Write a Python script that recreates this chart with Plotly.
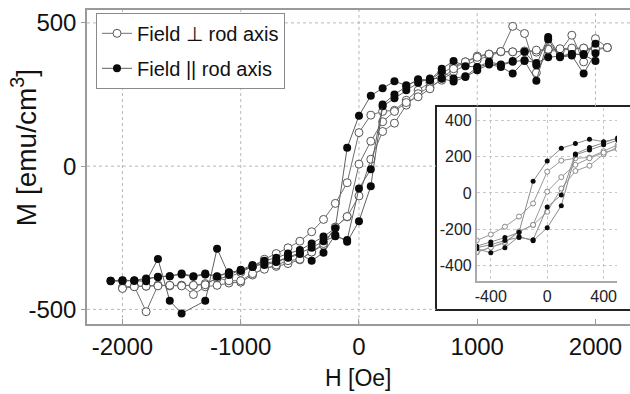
import plotly.graph_objects as go

# ---------------- data (H in Oe, M in emu/cm^3) ----------------
# Field perpendicular to rod axis (open circles)
H_perp_d1 = [2100, 2000, 1900, 1800, 1700, 1600, 1500, 1400, 1300, 1200, 1100, 1000, 900, 800, 700, 600,
             500, 400, 300, 200, 100, 0, -100, -200, -300, -400, -500, -600, -700, -800, -900, -1000,
             -1100, -1200, -1300, -1400, -1500, -1600, -1700, -1800, -1900, -2000]
M_perp_d1 = [414, 405, 412, 408, 405, 410, 398, 402, 399, 400, 391, 384, 364, 349, 323, 292,
             265, 230, 195, 191, 178, 117, -58, -130, -186, -229, -262, -285, -305, -325, -350, -371,
             -386, -392, -410, -416, -416, -416, -416, -419, -419, -424]
H_perp_a1 = [-2000, -1900, -1800, -1700, -1600, -1500, -1400, -1300, -1200, -1100, -1000, -900, -800, -700,
             -600, -500, -400, -300, -200, -100, 0, 100, 200, 300, 400, 500, 600, 700, 800, 900, 1000,
             1100, 1200, 1300, 1400, 1500, 1600, 1700, 1800, 1900, 2000, 2100]
M_perp_a1 = [-424, -419, -508, -416, -418, -416, -448, -421, -416, -408, -405, -380, -355, -350,
             -340, -327, -299, -276, -213, -177, -104, 24, 121, 150, 213, 253, 275, 300, 330, 352, 371,
             385, 399, 488, 463, 326, 405, 400, 457, 364, 445, 414]
H_perp_a2 = [-2000, -1900, -1800, -1700, -1600, -1500, -1400, -1300, -1200, -1100, -1000, -900, -800, -700,
             -600, -500, -400, -300, -200, -100, 0, 100, 200, 300, 400, 500, 600, 700, 800, 900, 1000,
             1100, 1200, 1300, 1400, 1500, 1600, 1700, 1800, 1900, 2000, 2100]
M_perp_a2 = [-427, -421, -419, -418, -416, -418, -416, -414, -390, -400, -400, -375, -360, -345,
             -330, -325, -300, -270, -213, -176, 7, 87, 155, 191, 222, 242, 270, 306, 340, 364, 380,
             391, 400, 399, 400, 405, 408, 410, 412, 412, 410, 414]

# Field parallel to rod axis (filled circles)
H_par_d1 = [2000, 1900, 1800, 1700, 1600, 1500, 1400, 1300, 1200, 1100, 1000, 900, 800, 700, 600, 500,
            400, 300, 200, 100, 0, -100, -200, -300, -400, -500, -600, -700, -800, -900, -1000, -1100,
            -1200, -1300, -1400, -1500, -1600, -1700, -1800, -1900, -2000, -2100]
M_par_d1 = [427, 391, 391, 384, 451, 352, 399, 367, 355, 364, 346, 349, 367, 340, 300, 300,
            282, 296, 272, 246, 176, 64, -217, -246, -270, -293, -305, -320, -330, -350, -365, -370,
            -384, -375, -384, -375, -384, -386, -395, -400, -400, -400]
H_par_a1 = [-2100, -2000, -1900, -1800, -1700, -1600, -1500, -1300, -1200, -1100, -1000, -900, -800, -700,
            -600, -500, -400, -300, -200, -100, 0, 100, 200, 300, 400, 500, 600, 700, 800, 900, 1000,
            1100, 1200, 1300, 1400, 1500, 1600, 1700, 1800, 1900, 2000]
M_par_a1 = [-400, -398, -400, -402, -324, -470, -514, -470, -288, -380, -362, -345, -345, -335,
            -320, -307, -330, -302, -240, -264, -192, -70, 209, 237, 265, 291, 306, 306, 295, 311, 335,
            355, 346, 323, 367, 298, 442, 380, 386, 323, 394]
H_par_a2 = [-2100, -2000, -1900, -1800, -1700, -1600, -1500, -1400, -1300, -1200, -1100, -1000, -900, -800,
            -700, -600, -500, -400, -300, -200, -100, 0, 100, 200, 300, 400, 500, 600, 700, 800, 900,
            1000, 1100, 1200, 1300, 1400, 1500, 1600, 1700, 1800, 1900, 2000]
M_par_a2 = [-402, -400, -398, -392, -388, -384, -378, -386, -378, -386, -372, -365, -352, -338,
            -333, -318, -303, -285, -262, -245, -258, -78, -11, 215, 250, 278, 303, 300, 330, 306, 314,
            344, 358, 352, 364, 370, 360, 380, 384, 391, 388, 367]

main_xticks = [-2000, -1000, 0, 1000, 2000]
main_xtext = ["-2000", "-1000", "0", "1000", "2000"]
main_yticks = [-500, 0, 500]
main_ytext = ["-500", "0", "500"]
inset_xticks = [-400, 0, 400]
inset_xtext = ["-400", "0", "400"]
inset_yticks = [-400, -200, 0, 200, 400]
inset_ytext = ["-400", "-200", "0", "200", "400"]
legend_names = ["Field \u22a5 rod axis", "Field || rod axis"]

FONT = "Liberation Sans, Arial, sans-serif"

fig = go.Figure()

perp_branches = [(H_perp_d1, M_perp_d1), (H_perp_a1, M_perp_a1), (H_perp_a2, M_perp_a2)]
par_branches = [(H_par_d1, M_par_d1), (H_par_a1, M_par_a1), (H_par_a2, M_par_a2)]

# main plot traces
for i, (h, m) in enumerate(perp_branches):
    fig.add_trace(go.Scatter(
        x=h, y=m, mode="lines+markers", name=legend_names[0], legendgroup="perp",
        showlegend=(i == 0),
        line=dict(color="#707070", width=1),
        marker=dict(symbol="circle", size=8, color="white", line=dict(color="#555555", width=1)),
        xaxis="x", yaxis="y"))
for i, (h, m) in enumerate(par_branches):
    fig.add_trace(go.Scatter(
        x=h, y=m, mode="lines+markers", name=legend_names[1], legendgroup="par",
        showlegend=(i == 0),
        line=dict(color="#606060", width=1),
        marker=dict(symbol="circle", size=8, color="#0a0a0a", line=dict(width=0)),
        xaxis="x", yaxis="y"))

# inset traces
for h, m in perp_branches:
    fig.add_trace(go.Scatter(
        x=h, y=m, mode="lines+markers", showlegend=False,
        line=dict(color="#9a9a9a", width=1),
        marker=dict(symbol="circle", size=5, color="white", line=dict(color="#8a8a8a", width=1)),
        xaxis="x2", yaxis="y2"))
for h, m in par_branches:
    fig.add_trace(go.Scatter(
        x=h, y=m, mode="lines+markers", showlegend=False,
        line=dict(color="#8a8a8a", width=1),
        marker=dict(symbol="circle", size=5, color="#0a0a0a", line=dict(width=0)),
        xaxis="x2", yaxis="y2"))

XR = [-2300, 2292]
YR = [-551, 545]
INSET_TOP_M = 209   # main-axis value at inset box top
INSET_LEFT_H = 651  # main-axis value at inset box left

shapes = []
grid_line = dict(color="#b8b8b8", width=1, dash="dot")
for xv in main_xticks:
    y0 = INSET_TOP_M if xv > INSET_LEFT_H else YR[0]
    shapes.append(dict(type="line", xref="x", yref="y", x0=xv, x1=xv, y0=y0, y1=YR[1],
                       line=grid_line, layer="below"))
for yv in main_yticks:
    x1 = INSET_LEFT_H if yv < INSET_TOP_M else XR[1]
    shapes.append(dict(type="line", xref="x", yref="y", x0=XR[0], x1=x1, y0=yv, y1=yv,
                       line=grid_line, layer="below"))
# inset box
shapes.append(dict(type="rect", xref="paper", yref="paper", x0=0.6427, x1=1.02, y0=0.0446, y1=0.694,
                   fillcolor="white", line=dict(color="#222222", width=2), layer="below"))

fig.update_layout(
    width=630, height=394,
    margin=dict(l=87, r=0, t=10, b=70),
    paper_bgcolor="white", plot_bgcolor="white",
    font=dict(family=FONT, size=24, color="#111111"),
    shapes=shapes,
    xaxis=dict(range=XR, tickvals=main_xticks, ticktext=main_xtext, showgrid=False, zeroline=False,
               showline=True, linecolor="#9a9a9a", linewidth=1.5, mirror=True,
               ticks="inside", ticklen=5, tickcolor="#9a9a9a",
               tickfont=dict(size=24, family=FONT)),
    yaxis=dict(range=YR, tickvals=main_yticks, ticktext=main_ytext, showgrid=False, zeroline=False,
               showline=True, linecolor="#9a9a9a", linewidth=1.5,
               ticks="outside", ticklen=4, tickcolor="#9a9a9a",
               tickfont=dict(size=24, family=FONT)),
    xaxis2=dict(domain=[0.7177, 0.976], anchor="y2", range=[-500, 495], tickvals=inset_xticks,
                ticktext=inset_xtext,
                showgrid=True, gridcolor="#c8c8c8", griddash="dot", gridwidth=1, zeroline=False,
                showline=True, linecolor="#aaaaaa", linewidth=1.5, ticks="",
                tickfont=dict(size=16, family=FONT, color="#222222")),
    yaxis2=dict(domain=[0.137, 0.688], anchor="x2", range=[-485, 468], tickvals=inset_yticks,
                ticktext=inset_ytext,
                showgrid=True, gridcolor="#c8c8c8", griddash="dot", gridwidth=1, zeroline=False,
                showline=True, linecolor="#aaaaaa", linewidth=1.5, ticks="",
                tickfont=dict(size=16, family=FONT, color="#222222")),
    legend=dict(x=0.0166, y=0.991, xanchor="left", yanchor="top",
                bgcolor="white", bordercolor="#8a8a8a", borderwidth=1,
                font=dict(size=20, family=FONT, color="#111111"),
                tracegroupgap=6, itemwidth=30),
    annotations=[
        dict(text="M [emu/cm<sup>3</sup>]", xref="paper", yref="paper", x=-0.116, y=0.56,
             textangle=-90, showarrow=False, xanchor="center", yanchor="middle",
             font=dict(size=28, family=FONT, color="#111111")),
        dict(text="H [Oe]", xref="paper", yref="paper", x=0.4996, y=-0.2197,
             showarrow=False, xanchor="center", yanchor="bottom",
             font=dict(size=23, family=FONT, color="#111111")),
    ],
)

fig.write_html("out.html", config={"displayModeBar": False},
               post_script="document.body.style.margin='0';document.body.style.padding='0';")
